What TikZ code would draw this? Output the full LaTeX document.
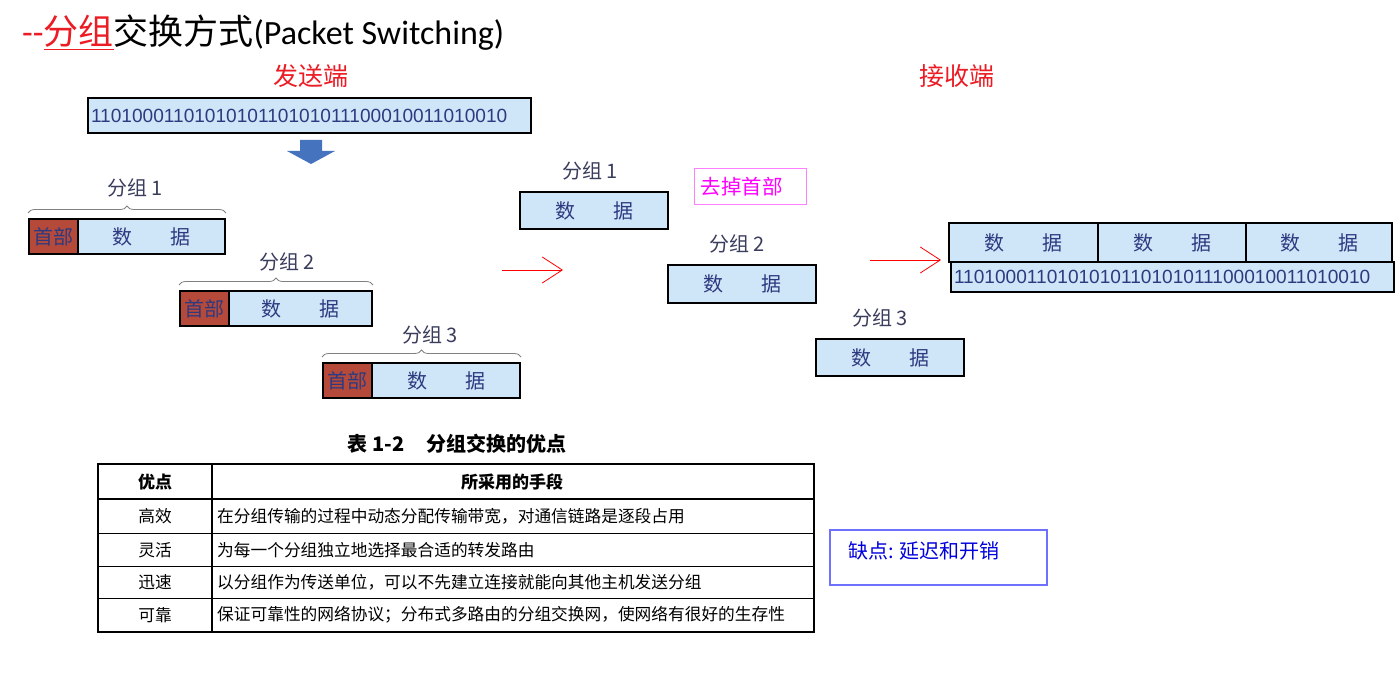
\documentclass[tikz,border=0pt]{standalone}
\usepackage{fontspec}
\setmainfont{Liberation Sans}
\newfontfamily\cjk{Noto Sans CJK SC}
\newfontfamily\carl{Carlito}
\usetikzlibrary{arrows.meta,decorations.pathreplacing}
\definecolor{lblue}{RGB}{207,230,248}
\definecolor{hred}{RGB}{182,74,58}
\definecolor{navy}{RGB}{46,58,128}
\definecolor{lblgrey}{RGB}{58,61,92}
\definecolor{tred}{RGB}{236,28,36}
\definecolor{mag}{RGB}{255,0,255}
\definecolor{pinkline}{RGB}{255,128,255}
\definecolor{sblue}{RGB}{112,112,255}
\definecolor{tblue}{RGB}{0,0,220}
\definecolor{arrowblue}{RGB}{70,115,190}
\begin{document}
\begin{tikzpicture}[x=1pt,y=-1pt,
  databox/.style={draw=black, line width=2pt, fill=lblue, inner sep=0pt,
    text=navy, font=\cjk\fontsize{20}{20}\selectfont},
  hdrbox/.style={draw=black, line width=2pt, fill=hred, inner sep=0pt,
    minimum height=35pt, minimum width=49pt, text=navy,
    font=\cjk\fontsize{20}{20}\selectfont},
  lbl/.style={text=lblgrey, inner sep=0pt, font=\cjk\fontsize{20}{20}\selectfont},
  bracestyle/.style={draw=gray, line width=0.8pt, decorate,
    decoration={brace, amplitude=7pt}},
  bitsbox/.style={draw=black, line width=2pt, fill=lblue, inner ysep=0pt,
    inner xsep=3pt, text width=437pt, align=left, text=navy,
    font=\fontsize{19.1}{19}\selectfont},
  redarrow/.style={draw=red, line width=0.8pt,
    -{Straight Barb[length=20pt,width=26pt,line width=0.8pt]}},
  side/.style={text=tred, inner sep=0pt, font=\cjk\fontsize{25}{25}\selectfont},
  cell/.style={inner sep=0pt, text=black, font=\cjk\fontsize{16.7}{17}\selectfont},
]
\useasboundingbox[fill=white] (0,0) rectangle (1399,679);

% title
\node[anchor=west, inner sep=0pt] (title) at (22,33)
  {\fontsize{35}{35}\selectfont\color{tred}{\carl --}\underline{\cjk 分组}\color{black}\cjk 交换方式{\carl\fontsize{34}{34}\selectfont(Packet Switching)}};

\node[side] (send) at (311,76) {发送端};
\node[side] (recv) at (957,76) {接收端};

% sender bit string
\node[bitsbox, minimum height=35pt, anchor=north west] (bits) at (87,97)
  {1101000110101010110101011100010011010010};
\fill[arrowblue] (300,140) -- (322,140) -- (322,151) -- (335,151) -- (311,164)
  -- (287,151) -- (300,151) -- cycle;

% sender packets
\node[hdrbox, anchor=north west] (h1) at (28,218) {首部};
\node[databox, minimum width=147pt, minimum height=35pt, anchor=north west] (d1) at (77,218) {数\hspace{38pt}据};
\draw[bracestyle] ([yshift=5pt]h1.north west) -- ([yshift=5pt]d1.north east);
\node[lbl] (l1) at (135,188) {分组 1};

\node[hdrbox, anchor=north west] (h2) at (179,290) {首部};
\node[databox, minimum width=143pt, minimum height=35pt, anchor=north west] (d2) at (228,290) {数\hspace{38pt}据};
\draw[bracestyle] ([yshift=5pt]h2.north west) -- ([yshift=5pt]d2.north east);
\node[lbl] (l2) at (287,262) {分组 2};

\node[hdrbox, anchor=north west] (h3) at (322,362) {首部};
\node[databox, minimum width=148pt, minimum height=35pt, anchor=north west] (d3) at (371,362) {数\hspace{38pt}据};
\draw[bracestyle] ([yshift=5pt]h3.north west) -- ([yshift=5pt]d3.north east);
\node[lbl] (l3) at (430,335) {分组 3};

% arrow 1
\coordinate (a1s) at (502,270);
\coordinate (a1e) at (563,270);
\draw[redarrow] (a1s) -- (a1e);

% middle packets
\node[lbl] (ml1) at (590,171) {分组 1};
\node[databox, minimum width=148pt, minimum height=37pt, anchor=north west] (m1) at (519,191) {数\hspace{38pt}据};
\node[draw=pinkline, line width=1.2pt, minimum width=112pt, minimum height=36pt,
  text width=100pt, inner xsep=6pt, inner ysep=0pt, align=left, text=mag,
  font=\cjk\fontsize{20.5}{21}\selectfont, anchor=north west] (rm) at (694,168) {去掉首部};
\node[lbl] (ml2) at (737,244) {分组 2};
\node[databox, minimum width=148pt, minimum height=38pt, anchor=north west] (m2) at (667,264) {数\hspace{38pt}据};
\node[lbl] (ml3) at (880,318) {分组 3};
\node[databox, minimum width=148pt, minimum height=37pt, anchor=north west] (m3) at (815,338) {数\hspace{38pt}据};

% arrow 2
\coordinate (a2s) at (870,260);
\coordinate (a2e) at (941,260);
\draw[redarrow] (a2s) -- (a2e);

% receiver
\node[bitsbox, minimum height=30pt, anchor=north west] (rb) at (950,261)
  {1101000110101010110101011100010011010010};
\node[databox, minimum width=149pt, minimum height=39pt, anchor=north west] (r1) at (948,222) {数\hspace{38pt}据};
\node[databox, minimum width=148pt, minimum height=39pt, anchor=north west] (r2) at (1097,222) {数\hspace{38pt}据};
\node[databox, minimum width=146pt, minimum height=39pt, anchor=north west] (r3) at (1245,222) {数\hspace{38pt}据};

% table
\node[inner sep=0pt, font=\cjk\bfseries\fontsize{20}{20}\selectfont] (cap) at (457,444) {表 1-2\hspace{22pt}分组交换的优点};
\draw[line width=2.5pt] (98,464) rectangle (814,632);
\draw[line width=1.5pt] (98,499) -- (814,499);
\draw[line width=1pt] (98,533) -- (814,533);
\draw[line width=1pt] (98,566) -- (814,566);
\draw[line width=1pt] (98,598) -- (814,598);
\draw[line width=1.2pt] (212,464) -- (212,632);
\node[cell, font=\cjk\bfseries\fontsize{17}{17}\selectfont] (t00) at (155,482) {优点};
\node[cell, font=\cjk\bfseries\fontsize{17}{17}\selectfont] (t01) at (512,482) {所采用的手段};
\node[cell] (t10) at (155,516) {高效};
\node[cell, anchor=west] (t11) at (217,516) {在分组传输的过程中动态分配传输带宽，对通信链路是逐段占用};
\node[cell] (t20) at (155,550) {灵活};
\node[cell, anchor=west] (t21) at (217,550) {为每一个分组独立地选择最合适的转发路由};
\node[cell] (t30) at (155,582) {迅速};
\node[cell, anchor=west] (t31) at (217,582) {以分组作为传送单位，可以不先建立连接就能向其他主机发送分组};
\node[cell] (t40) at (155,615) {可靠};
\node[cell, anchor=west] (t41) at (217,615) {保证可靠性的网络协议；分布式多路由的分组交换网，使网络有很好的生存性};

% shortcoming
\node[draw=sblue, line width=1.5pt, minimum width=217pt, minimum height=55pt,
  inner sep=0pt, anchor=north west] (sb) at (829,529) {};
\node[anchor=west, inner sep=0pt, text=tblue, font=\cjk\fontsize{20}{20}\selectfont] (st) at (848,551) {缺点: 延迟和开销};
\end{tikzpicture}
\end{document}
